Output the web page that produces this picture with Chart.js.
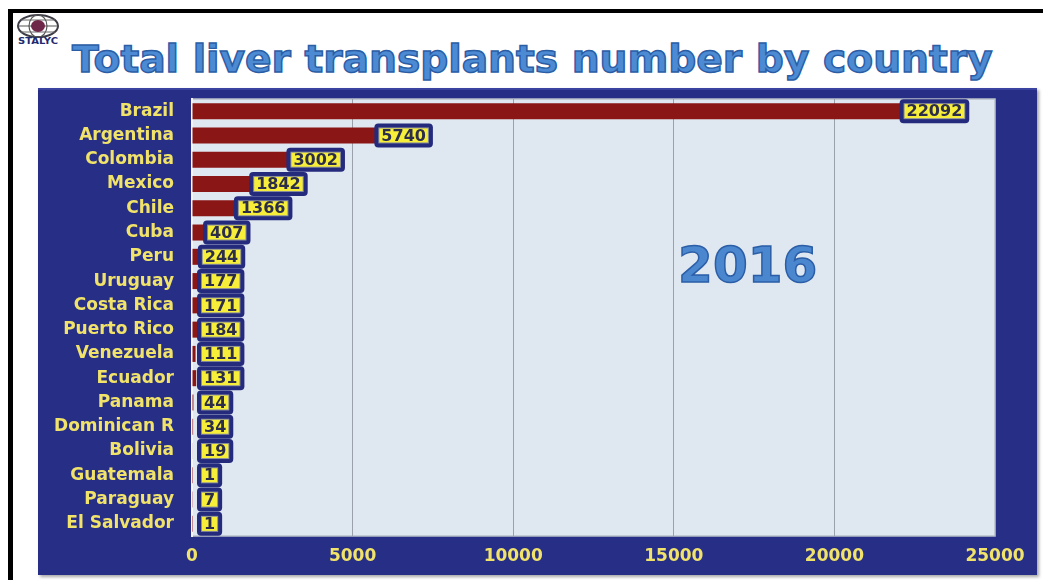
<!DOCTYPE html>
<html>
<head>
<meta charset="utf-8">
<script src="https://cdn.jsdelivr.net/npm/chart.js@4.4.1/dist/chart.umd.min.js"></script>
<style>
  html, body { margin: 0; padding: 0; background: #ffffff; width: 1043px; height: 580px; overflow: hidden; }
  #frameTop { position: absolute; left: 8px; top: 9px; width: 1035px; height: 4px; background: #000; }
  #frameLeft { position: absolute; left: 8px; top: 9px; width: 5px; height: 571px; background: #000; }
  #logo { position: absolute; left: 15px; top: 14px; }
  #title { position: absolute; left: 0; top: 38px; white-space: nowrap;
           font-family: "DejaVu Sans", sans-serif; font-weight: bold; font-size: 37px;
           color: #4c8bd3; -webkit-text-stroke: 1.4px #2b5da5; transform-origin: 0 0; }
  #chartBox { position: absolute; left: 38px; top: 88px; box-shadow: 2px 2px 3px rgba(0,0,0,0.35); }
</style>
</head>
<body>
<div id="frameTop"></div>
<div id="frameLeft"></div>
<svg id="logo" width="48" height="34" viewBox="0 0 48 34">
  <ellipse cx="23" cy="12" rx="20" ry="11" fill="#ffffff" stroke="#3c3c46" stroke-width="2"/>
  <ellipse cx="23" cy="12" rx="9" ry="11" fill="none" stroke="#555" stroke-width="1.2"/>
  <line x1="3" y1="12" x2="43" y2="12" stroke="#555" stroke-width="1.2"/>
  <line x1="6" y1="6" x2="40" y2="6" stroke="#666" stroke-width="1"/>
  <line x1="6" y1="18" x2="40" y2="18" stroke="#666" stroke-width="1"/>
  <ellipse cx="23" cy="12" rx="7" ry="6" fill="#6e2748"/>
  <text x="23" y="30" text-anchor="middle" font-family="DejaVu Sans" font-weight="bold" font-size="8" textLength="40" lengthAdjust="spacingAndGlyphs" fill="#1f2a70">STALYC</text>
</svg>
<div id="title">Total liver transplants number by country</div>
<div id="chartBox"><canvas id="c" width="999" height="487"></canvas></div>
<script>
// ---- data ----
const countries = ["Brazil","Argentina","Colombia","Mexico","Chile","Cuba","Peru","Uruguay","Costa Rica","Puerto Rico","Venezuela","Ecuador","Panama","Dominican R","Bolivia","Guatemala","Paraguay","El Salvador"];
const transplants = [22092,5740,3002,1842,1366,407,244,177,171,184,111,131,44,34,19,1,7,1];
const xTickValues = [0,5000,10000,15000,20000,25000];
const yearLabel = "2016";

// fit title to reference width
(function(){
  const t = document.getElementById('title');
  const w = t.offsetWidth;
  const target = 921;
  t.style.transform = 'scaleX(' + (target / w) + ')';
  t.style.left = '72px';
})();

const NAVY = '#272e86';
const PLOT_BG = '#dfe7f1';
const YELLOW = '#f1e36a';

const decor = {
  id: 'decor',
  beforeDraw(chart) {
    const {ctx, chartArea: a, width, height} = chart;
    ctx.save();
    ctx.fillStyle = NAVY;
    ctx.fillRect(0, 0, width, height);
    ctx.fillStyle = '#3a44a0';
    ctx.fillRect(0, 0, width, 2);
    ctx.fillStyle = PLOT_BG;
    ctx.fillRect(a.left, a.top, a.right - a.left, a.bottom - a.top);
    ctx.strokeStyle = '#b9c0c9';
    ctx.lineWidth = 1.5;
    ctx.strokeRect(a.left, a.top, a.right - a.left, a.bottom - a.top);
    ctx.restore();
  },
  afterDatasetsDraw(chart) {
    const {ctx, chartArea: a, scales} = chart;
    const meta = chart.getDatasetMeta(0);
    ctx.save();
    // year text
    const yx = scales.x.getPixelForValue(17300);
    const yy = a.top + (a.bottom - a.top) * 0.39;
    ctx.font = 'bold 50px "DejaVu Sans"';
    ctx.textAlign = 'center';
    ctx.textBaseline = 'middle';
    ctx.fillStyle = '#4a87cf';
    ctx.fillText(yearLabel, yx, yy);
    ctx.lineWidth = 1.5;
    ctx.strokeStyle = '#2b5ea6';
    ctx.strokeText(yearLabel, yx, yy);

    // value boxes
    ctx.font = 'bold 16px "DejaVu Sans"';
    ctx.textAlign = 'left';
    meta.data.forEach((bar, i) => {
      const txt = String(transplants[i]);
      const tw = ctx.measureText(txt).width;
      const x0 = Math.max(bar.x - 2, a.left + 5);
      const y0 = bar.y;
      const ow = tw + 14, oh = 24;
      ctx.fillStyle = '#242a7c';
      roundRect(ctx, x0, y0 - oh / 2, ow, oh, 4);
      ctx.fill();
      ctx.fillStyle = '#8a8f9c';
      ctx.fillRect(x0 + 4, y0 - oh / 2 + 4, ow - 8, oh - 8);
      ctx.fillStyle = '#f7ee3a';
      ctx.fillRect(x0 + 5, y0 - oh / 2 + 5, ow - 10, oh - 10);
      ctx.fillStyle = '#2b2d4a';
      ctx.textBaseline = 'middle';
      ctx.fillText(txt, x0 + 7, y0 + 1);
    });
    ctx.restore();
  }
};

function roundRect(ctx, x, y, w, h, r) {
  ctx.beginPath();
  ctx.moveTo(x + r, y);
  ctx.lineTo(x + w - r, y);
  ctx.quadraticCurveTo(x + w, y, x + w, y + r);
  ctx.lineTo(x + w, y + h - r);
  ctx.quadraticCurveTo(x + w, y + h, x + w - r, y + h);
  ctx.lineTo(x + r, y + h);
  ctx.quadraticCurveTo(x, y + h, x, y + h - r);
  ctx.lineTo(x, y + r);
  ctx.quadraticCurveTo(x, y, x + r, y);
  ctx.closePath();
}

new Chart(document.getElementById('c'), {
  type: 'bar',
  data: {
    labels: countries,
    datasets: [{
      data: transplants,
      backgroundColor: '#8b1616',
      borderWidth: 0,
      categoryPercentage: 1.0,
      barPercentage: 0.66
    }]
  },
  options: {
    indexAxis: 'y',
    responsive: false,
    animation: false,
    layout: { padding: { top: 11, right: 42, left: 0, bottom: 0 } },
    plugins: { legend: { display: false }, tooltip: { enabled: false } },
    scales: {
      x: {
        min: 0, max: 25000,
        afterBuildTicks(scale) { scale.ticks = xTickValues.map(v => ({ value: v })); },
        afterFit(scale) { scale.height = 39; scale.paddingLeft = 0; scale.paddingRight = 0; },
        ticks: { color: YELLOW, font: { family: 'DejaVu Sans', weight: 'bold', size: 17 }, padding: 10,
                 callback: (v) => String(v) },
        grid: { color: '#9aa1ab', lineWidth: 1, drawTicks: false },
        border: { display: false }
      },
      y: {
        afterFit(scale) { scale.width = 154; scale.paddingTop = 0; scale.paddingBottom = 0; },
        ticks: { color: YELLOW, font: { family: 'DejaVu Sans', weight: 'bold', size: 17 }, padding: 18 },
        grid: { display: false, drawTicks: false },
        border: { display: true, color: '#f4f6fa', width: 2 }
      }
    }
  },
  plugins: [decor]
});
</script>
</body>
</html>
